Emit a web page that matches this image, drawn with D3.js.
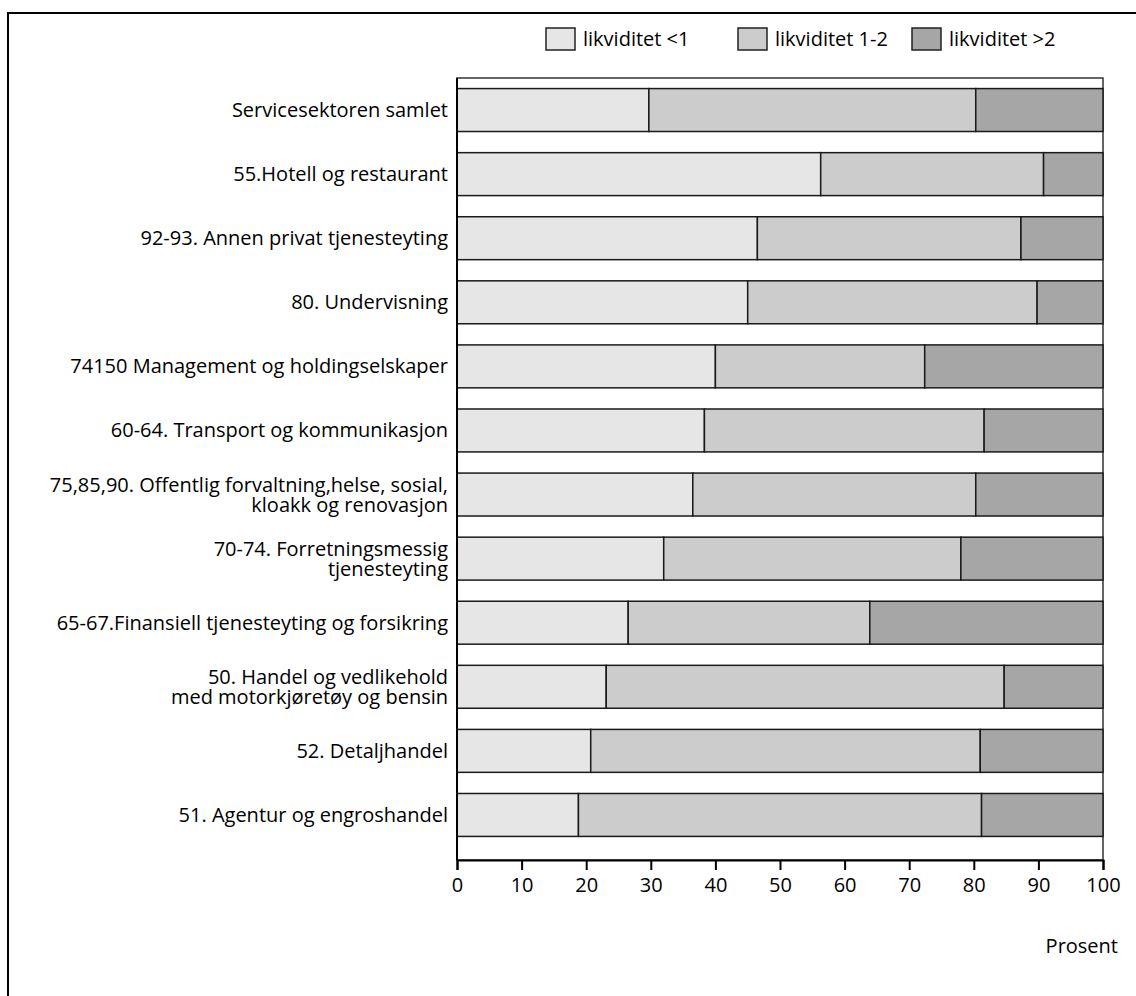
<!DOCTYPE html>
<html><head><meta charset="utf-8">
<script src="https://cdn.jsdelivr.net/npm/d3@7"></script>
<style>
html,body{margin:0;padding:0;background:#fff;}
svg{display:block;font-family:"Open Sans",sans-serif;}
</style></head>
<body>
<svg id="chart" width="1136" height="996"></svg>
<script>
const categories = [
  "Servicesektoren samlet",
  "55.Hotell og restaurant",
  "92-93. Annen privat tjenesteyting",
  "80. Undervisning",
  "74150 Management og holdingselskaper",
  "60-64. Transport og kommunikasjon",
  "75,85,90. Offentlig forvaltning,helse, sosial,|kloakk og renovasjon",
  "70-74. Forretningsmessig|tjenesteyting",
  "65-67.Finansiell tjenesteyting og forsikring",
  "50. Handel og vedlikehold|med motorkjøretøy og bensin",
  "52. Detaljhandel",
  "51. Agentur og engroshandel"
];
const seriesNames = ["likviditet <1", "likviditet 1-2", "likviditet >2"];
const likvUnder1 = [29.7, 56.3, 46.5, 45.0, 40.0, 38.3, 36.5, 32.0, 26.5, 23.1, 20.7, 18.8];
const likv1to2   = [50.6, 34.5, 40.8, 44.8, 32.4, 43.3, 43.8, 46.0, 37.4, 61.6, 60.3, 62.4];
const likvOver2  = [19.7,  9.2, 12.7, 10.2, 27.6, 18.4, 19.7, 22.0, 36.1, 15.3, 19.0, 18.8];
const xTicks = [0,10,20,30,40,50,60,70,80,90,100];
const colors = ["#e6e6e6", "#cccccc", "#a6a6a6"];

(function(){
const svg = d3.select("#chart");
const pLeft = 457, pRight = 1103, pTop = 78, axisY = 860;
const fs = 20;

// outer frame
svg.append("rect").attr("x",8).attr("y",13).attr("width",1200).attr("height",1100)
  .attr("fill","none").attr("stroke","#000").attr("stroke-width",2);

const x = d3.scaleLinear().domain([0,100]).range([pLeft,pRight]);
const y = d3.scaleBand().domain(categories).range([pTop, 847]).paddingInner(0.33).paddingOuter(0.165);

const rows = categories.map((c,i)=>({cat:c, v:[likvUnder1[i], likv1to2[i], likvOver2[i]]}));
const stack = d3.stack().keys([0,1,2]).value((d,k)=>d.v[k]);
const stacked = stack(rows);

// plot frame
svg.append("rect").attr("x",pLeft).attr("y",pTop).attr("width",pRight-pLeft).attr("height",axisY-pTop)
  .attr("fill","none").attr("stroke","#333").attr("stroke-width",1.5);

const g = svg.append("g");
stacked.forEach((layer,k)=>{
  g.selectAll(null).data(layer).enter().append("rect")
    .attr("x",d=>x(d[0])).attr("width",d=>x(d[1])-x(d[0]))
    .attr("y",d=>y(d.data.cat)).attr("height",y.bandwidth())
    .attr("fill",colors[k]).attr("stroke","#1a1a1a").attr("stroke-width",1.5);
});

// x axis
const ax = svg.append("g").attr("transform",`translate(0,${axisY})`)
  .call(d3.axisBottom(x).tickValues(xTicks).tickSize(10).tickPadding(8).tickFormat(d3.format("d")));
ax.select(".domain").attr("stroke","#000").attr("stroke-width",2);
ax.selectAll(".tick line").attr("stroke","#000").attr("stroke-width",2);
ax.selectAll(".tick text").attr("font-size",fs).attr("fill","#000").attr("font-family","Open Sans, sans-serif");

// y axis line
svg.append("line").attr("x1",pLeft).attr("x2",pLeft).attr("y1",pTop).attr("y2",axisY)
  .attr("stroke","#000").attr("stroke-width",2);

// category labels
categories.forEach(c=>{
  const lines = c.split("|");
  const cy = y(c) + y.bandwidth()/2;
  const lh = 20;
  const t = svg.append("text").attr("text-anchor","end").attr("font-size",fs).attr("fill","#000");
  lines.forEach((ln,i)=>{
    t.append("tspan").attr("x",pLeft-9)
      .attr("y", cy + (i - (lines.length-1)/2)*lh)
      .attr("dy","0.35em").text(ln);
  });
});

// x title
svg.append("text").attr("x",1118).attr("y",946).attr("dy","0.35em").attr("text-anchor","end")
  .attr("font-size",fs).attr("fill","#000").text("Prosent");

// legend
const legX = [546, 738, 912];
seriesNames.forEach((n,k)=>{
  svg.append("rect").attr("x",legX[k]).attr("y",28).attr("width",29).attr("height",22)
    .attr("fill",colors[k]).attr("stroke","#222").attr("stroke-width",1.5);
  svg.append("text").attr("x",legX[k]+37).attr("y",39).attr("dy","0.35em")
    .attr("font-size",fs).attr("fill","#000").text(n);
});
})();
</script>
</body></html>
